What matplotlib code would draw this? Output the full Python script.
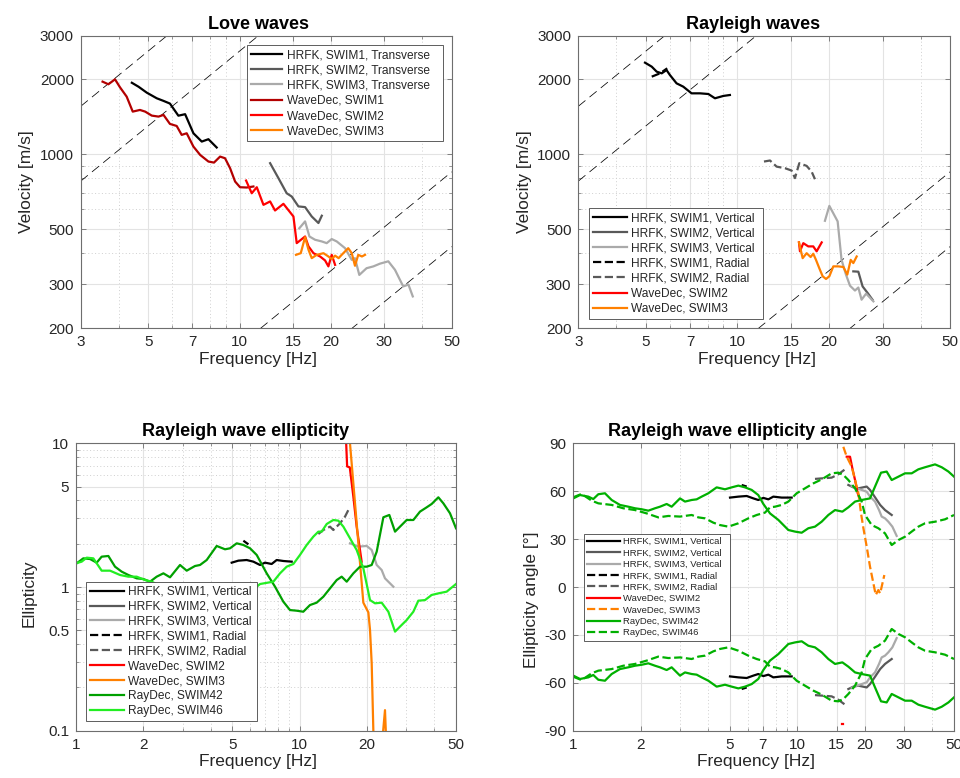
"""Dispersion curves (Love / Rayleigh) and Rayleigh ellipticity from HRFK, WaveDec and RayDec."""
import matplotlib

matplotlib.use("Agg")
import matplotlib.pyplot as plt  # noqa: E402
import numpy as np  # noqa: E402

plt.rcParams["font.family"] = ["Liberation Sans", "DejaVu Sans"]

# colours (MATLAB-ish)
BLACK = "#000000"
DGRAY = "#595959"
LGRAY = "#aaaaaa"
DRED = "#b30000"
RED = "#ff0000"
ORANGE = "#ff8000"
DGREEN = "#00a000"
LGREEN = "#22ee22"
GREEN = "#00b000"

# ---------------- Love waves: frequency [Hz], phase velocity [m/s]
LOVE_HRFK1_F = [4.42, 4.65, 4.95, 5.34, 5.62, 5.90, 6.29, 6.62, 7.05, 7.51, 7.90, 8.41]
LOVE_HRFK1_V = [1940, 1870, 1770, 1680, 1640, 1600, 1430, 1450, 1215, 1125, 1150, 1065]
LOVE_HRFK2_F = [12.61, 13.43, 14.30, 14.86, 15.63, 16.44, 17.29, 18.19, 18.66]
LOVE_HRFK2_V = [921, 802, 697, 676, 617, 613, 562, 529, 566]
LOVE_HRFK3_F = [15.74, 16.44, 16.99, 17.73, 18.66, 19.37, 20.12, 20.9, 22.26, 23.42,
                24.0, 24.8, 26.2, 27.6, 29.0, 30.9, 32.5, 34.6, 36.0, 37.2]
LOVE_HRFK3_V = [504, 537, 467, 453, 446, 439, 456, 446, 419, 376,
                382, 327, 348, 354, 363, 371, 343, 294, 299, 268]
LOVE_WD1_F = [3.54, 3.70, 3.89, 4.04, 4.25, 4.45, 4.70, 4.89, 5.14, 5.41, 5.62, 5.90, 6.21,
              6.45, 6.70, 7.05, 7.42, 7.90, 8.24, 8.63, 8.96, 9.31, 9.67, 10.04, 10.56, 11.11]
LOVE_WD1_V = [1960, 1913, 2003, 1860, 1706, 1485, 1508, 1485, 1431, 1418, 1440, 1325, 1300,
              1197, 1215, 1074, 994, 935, 926, 979, 964, 879, 777, 737, 735, 742]
LOVE_WD2_F = [10.51, 10.97, 11.40, 11.99, 12.61, 13.09, 13.95, 15.05, 15.43, 16.44, 16.87,
              17.52, 18.42, 19.13, 19.62, 20.12, 20.64]
LOVE_WD2_V = [784, 697, 737, 626, 646, 594, 632, 562, 439, 467, 426, 400, 388, 374, 354, 394, 359]
LOVE_WD3_F = [15.35, 15.91, 16.44, 16.87, 17.29, 17.96, 18.9, 19.62, 20.12, 20.64, 21.2,
              21.7, 22.8, 23.42, 24.0, 24.6, 25.3, 25.9]
LOVE_WD3_V = [394, 400, 464, 413, 382, 394, 400, 388, 379, 391, 382, 394, 419, 400, 356, 394, 388, 394]

# ---------------- Rayleigh waves
RAY_HRFK1V_F = [4.97, 5.23, 5.43, 5.64, 5.85, 6.00, 6.31, 6.64, 7.07, 7.54, 8.03, 8.44, 8.99, 9.45]
RAY_HRFK1V_V = [2337, 2252, 2150, 2117, 2183, 2085, 1930, 1871, 1759, 1759, 1748, 1680, 1717, 1732]
RAY_HRFK1R_F = [5.23, 5.57, 5.88]
RAY_HRFK1R_V = [2053, 2117, 2218]
RAY_HRFK2V_F = [24.05, 24.98, 25.8, 26.9, 27.8]
RAY_HRFK2V_V = [338, 337, 294, 275, 260]
RAY_HRFK3V_F = [19.4, 20.06, 21.36, 22.0, 22.75, 23.45, 24.35, 24.98, 25.6, 26.5, 28.0]
RAY_HRFK3V_V = [540, 620, 537, 376, 328, 296, 283, 291, 260, 275, 256]
RAY_HRFK2R_F = [12.23, 12.8, 13.46, 14.34, 15.08, 15.46, 15.98, 16.89, 17.54, 17.99]
RAY_HRFK2R_V = [935, 944, 892, 879, 860, 802, 921, 898, 852, 794]
RAY_WD2_F = [15.94, 16.06, 16.47, 17.1, 17.76, 18.22, 18.93]
RAY_WD2_V = [442, 407, 439, 426, 426, 407, 442]
RAY_WD3_F = [15.94, 16.39, 16.89, 17.41, 17.76, 18.13, 18.59, 19.07, 19.56, 20.06, 20.67,
             21.46, 22.3, 22.98, 23.58, 24.05, 24.67]
RAY_WD3_V = [442, 382, 400, 386, 398, 376, 348, 323, 315, 323, 354, 354, 352, 328, 376, 365, 388]

# constant-wavelength guide lines [m]
GUIDE_WAVELENGTHS = [520, 260, 17, 8.5]

# ---------------- Rayleigh ellipticity (H/V)
ELL_HRFK1V_F = [4.966, 5.318, 5.795, 6.207, 6.647, 6.998, 7.495, 7.891, 8.453, 9.211]
ELL_HRFK1V_E = [1.477, 1.525, 1.541, 1.501, 1.423, 1.477, 1.446, 1.541, 1.517, 1.501]
ELL_HRFK3V_F = [16.79, 18.3, 19.94, 20.99, 22.10, 23.26, 24.07, 26.23]
ELL_HRFK3V_E = [2.014, 1.91, 1.93, 1.810, 1.423, 1.313, 1.149, 1.005]
ELL_HRFK1R_F = [5.6, 5.9]
ELL_HRFK1R_E = [2.10, 1.98]
ELL_HRFK2R_F = [12.12, 12.76, 13.67, 14.14, 15.15, 15.95, 16.51]
ELL_HRFK2R_E = [2.338, 2.493, 2.630, 2.493, 2.774, 3.089, 3.436]
ELL_WD2_F = [16.1, 16.3, 16.75, 17.38, 17.98, 18.93]
ELL_WD2_E = [11.0, 6.9, 6.8, 4.25, 2.63, 1.50]
ELL_WD3_F = [16.70, 19.26, 20.28, 20.63, 20.99, 21.35, 21.6, 23.3, 23.55, 24.07, 24.3, 24.6]
ELL_WD3_E = [11.0, 0.778, 0.666, 0.502, 0.294, 0.100, 0.07, 0.05, 0.095, 0.139, 0.095, 0.05]
ELL_42_F = [1.007, 1.078, 1.155, 1.237, 1.302, 1.395, 1.494, 1.600, 1.714, 1.867, 2.0, 2.142,
            2.294, 2.458, 2.632, 2.917, 3.125, 3.404, 3.584, 3.839, 4.255, 4.637, 4.882, 5.229,
            5.601, 5.998, 6.425, 7.119, 7.758, 8.453, 9.054, 9.697, 10.38, 11.12, 11.91, 12.76,
            13.67, 14.64, 15.41, 16.23, 17.38, 18.61, 19.94, 20.99, 22.10, 23.67, 25.17, 26.69,
            28.09, 30.09, 32.23, 34.51, 36.97, 38.92, 41.69, 43.89, 47.0, 50.0]
ELL_42_E = [1.462, 1.583, 1.566, 1.477, 1.626, 1.644, 1.385, 1.279, 1.212, 1.149, 1.137, 1.089,
            1.180, 1.245, 1.168, 1.423, 1.299, 1.400, 1.423, 1.541, 1.930, 1.830, 1.859, 2.014,
            1.961, 1.859, 1.671, 1.245, 1.005, 0.790, 0.691, 0.684, 0.673, 0.749, 0.778, 0.856,
            0.979, 1.118, 1.180, 1.089, 1.245, 1.385, 1.385, 1.423, 1.762, 3.056, 3.172, 2.428,
            2.630, 2.926, 2.926, 3.346, 3.585, 3.783, 4.208, 3.823, 3.259, 2.561]
ELL_46_F = [1.0, 1.06, 1.116, 1.195, 1.302, 1.419, 1.573, 1.714, 1.867, 2.035, 2.179, 2.6,
            3.4, 4.9, 6.0, 6.647, 7.625, 8.168, 8.748, 9.369, 10.03, 10.75, 11.51, 12.12, 12.54,
            13.21, 14.14, 14.89, 15.68, 16.79, 17.98, 19.26, 20.63, 21.72, 23.26, 24.92, 26.69,
            28.09, 30.09, 32.23, 33.93, 36.35, 38.92, 41.69, 45.42, 50.0]
ELL_46_E = [1.462, 1.501, 1.6, 1.583, 1.299, 1.299, 1.212, 1.180, 1.180, 1.118, 1.089, 0.95,
            0.98, 0.78, 0.92, 1.049, 1.089, 1.245, 1.385, 1.446, 1.671, 1.961, 2.241, 2.428, 2.428,
            2.745, 2.926, 2.895, 2.630, 2.182, 1.810, 1.349, 0.811, 0.770, 0.778, 0.673, 0.489,
            0.530, 0.589, 0.673, 0.803, 0.811, 0.880, 0.903, 0.928, 1.049]

# ---------------- Rayleigh ellipticity angle [deg] (upper branch; HRFK/RayDec mirrored below)
ANG_HRFK1V_F = [5.003, 5.451, 5.937, 6.359, 6.69, 7.047, 7.419, 7.809, 8.506, 9.427]
ANG_HRFK1V_A = [56.0, 56.6, 57.0, 55.5, 54.5, 55.8, 54.9, 56.6, 56.0, 56.0]
ANG_HRFK2V_F = [16.88, 17.77, 18.71, 20.38, 21.09, 22.2, 23.4, 24.6, 26.35]
ANG_HRFK2V_A = [63.9, 62.4, 61.8, 62.9, 60.8, 56.2, 51.4, 48.2, 45.1]
ANG_HRFK3V_F = [17.47, 18.39, 19.36, 20.38, 21.09, 22.2, 23.13, 23.77, 24.6, 25.46, 26.53, 27.73]
ANG_HRFK3V_A = [63.3, 61.8, 60.8, 59.7, 56.6, 53.5, 48.2, 44.1, 43.0, 40.9, 37.8, 32.0]
ANG_HRFK1R_F = [5.64, 5.94]
ANG_HRFK1R_A = [63.9, 62.9]
ANG_HRFK2R_F = [11.98, 13.05, 14.22, 15.23, 16.31]
ANG_HRFK2R_A = [67.7, 68.1, 68.5, 70.6, 73.7]
ANG_WD2_F = [16.6, 17.17, 17.59, 18.08, 18.58, 18.83]
ANG_WD2_A = [81.6, 81.6, 74.3, 67.0, 58.7, 56.6]
ANG_WD2_DOT_F = [15.85, 15.95]
ANG_WD2_DOT_A = [-85.8, -85.8]
ANG_WD3_F = [15.6, 15.87, 16.6, 17.47, 18.08, 18.71, 19.23, 19.7, 20.38, 21.09, 21.83, 22.36,
             22.97, 23.4, 23.77, 24.43]
ANG_WD3_A = [95.0, 89.6, 81.6, 75.4, 67.0, 58.7, 46.1, 36.8, 25.3, 12.7, 2.3, -5.0,
             -1.9, -4.0, 0.2, 7.5]
ANG_42_F = [1.0, 1.071, 1.167, 1.228, 1.293, 1.384, 1.483, 1.615, 1.760, 1.885, 2.018, 2.161,
            2.314, 2.437, 2.609, 2.747, 2.993, 3.150, 3.374, 3.551, 3.739, 4.004, 4.362, 4.752,
            5.089, 5.451, 5.837, 6.251, 6.69, 7.047, 7.546, 8.223, 9.111, 9.757, 10.45, 11.19,
            11.98, 12.83, 13.74, 14.72, 15.87, 16.88, 18.08, 19.36, 21.09, 22.2, 23.61, 25.02,
            26.35, 28.22, 30.22, 32.36, 34.65, 37.11, 41.13, 44.05, 47.19, 50.0]
ANG_42_A = [55.5, 57.6, 56.6, 55.1, 58.1, 58.7, 54.5, 51.4, 50.3, 49.3, 48.7, 47.8,
            49.3, 50.3, 52.0, 50.3, 55.5, 53.5, 54.5, 54.9, 56.6, 58.7, 62.4, 61.2,
            62.4, 63.5, 62.4, 60.8, 57.6, 52.0, 46.1, 42.0, 35.7, 34.7, 34.0, 36.8,
            37.8, 40.9, 45.1, 48.2, 47.2, 49.9, 53.5, 54.5, 55.5, 62.9, 71.6, 72.3,
            67.0, 69.1, 71.2, 71.2, 73.7, 75.0, 76.8, 75.0, 72.3, 69.1]
ANG_46_F = [1.0, 1.089, 1.207, 1.293, 1.483, 1.672, 1.885, 2.125, 2.395, 2.655, 2.993, 3.374,
            3.614, 3.870, 4.215, 4.514, 4.918, 5.451, 6.039, 6.579, 7.168, 7.546, 7.943, 8.506,
            9.111, 9.925, 10.81, 11.78, 12.83, 14.22, 15.23, 16.03, 16.88, 18.08, 19.36, 20.03,
            21.46, 22.97, 24.6, 26.35, 28.22, 30.22, 32.36, 34.65, 37.11, 41.13, 45.58, 50.0]
ANG_46_A = [56.2, 58.3, 54.1, 52.4, 51.4, 49.3, 48.2, 46.1, 43.6, 44.5, 44.1, 45.1,
            43.6, 43.0, 40.3, 38.8, 37.8, 39.9, 43.0, 45.1, 46.6, 49.9, 50.3, 51.4,
            53.5, 58.7, 61.8, 64.9, 67.4, 71.2, 71.6, 70.2, 67.0, 61.8, 53.5, 45.1,
            38.8, 36.8, 33.6, 26.3, 29.4, 31.5, 34.7, 37.8, 39.9, 40.9, 42.4, 45.1]

LW = 1.6
TICK_COLOR = "#262626"
FRAME_COLOR = "#6e6e6e"


def style_axes(ax, xlim, xmajor, xminor, ylim, ymajor, yminor, ylog=True, xlabel_x=0.48):
    ax.set_xscale("log")
    if ylog:
        ax.set_yscale("log")
    ax.set_xlim(*xlim)
    ax.set_ylim(*ylim)
    ax.set_xticks(xmajor)
    ax.set_xticklabels([f"{t:g}" for t in xmajor])
    ax.set_xticks(xminor, minor=True)
    ax.set_xticklabels([], minor=True)
    ax.set_yticks(ymajor)
    ax.set_yticklabels([f"{t:g}" for t in ymajor])
    ax.set_yticks(yminor, minor=True)
    ax.set_yticklabels([], minor=True)
    ax.tick_params(which="major", direction="in", length=3.5, width=0.6, colors=FRAME_COLOR,
                   labelcolor=TICK_COLOR, labelsize=11, top=True, right=True, pad=5)
    ax.tick_params(which="minor", direction="in", length=2, width=0.5, colors=FRAME_COLOR,
                   top=True, right=True)
    ax.grid(which="major", color="#e3e3e3", linewidth=0.8, linestyle="-")
    ax.grid(which="minor", color="#cfcfcf", linewidth=0.7, linestyle=(0, (1, 2.5)))
    ax.set_axisbelow(True)
    for sp in ax.spines.values():
        sp.set_color(FRAME_COLOR)
        sp.set_linewidth(0.8)
    ax.set_xlabel("Frequency [Hz]", fontsize=12.5, color=TICK_COLOR, labelpad=2)
    ax.xaxis.label.set_x(xlabel_x)


def guide_lines(ax):
    f = np.array([3.0, 50.0])
    for lam in GUIDE_WAVELENGTHS:
        ax.plot(f, lam * f, color="black", linewidth=0.55, linestyle=(0, (12, 7)), zorder=1.5)


def legend(ax, loc, box, size, hlen, spacing, textpad=0.4):
    leg = ax.legend(loc=loc, bbox_to_anchor=box, mode="expand", borderaxespad=0, fontsize=size,
                    handlelength=hlen, handletextpad=textpad, labelspacing=spacing, borderpad=0.35,
                    fancybox=False, framealpha=1, edgecolor="#444444")
    leg.get_frame().set_linewidth(0.6)
    for t in leg.get_texts():
        t.set_color(TICK_COLOR)


def main():
    fig = plt.figure(figsize=(9.6, 7.78), dpi=100)
    top_ticks_x = [3, 5, 7, 10, 15, 20, 30, 50]
    top_minor_x = [4, 6, 8, 9, 40]
    top_ticks_y = [200, 300, 500, 1000, 2000, 3000]
    top_minor_y = [400, 600, 700, 800, 900]

    # ---- Love waves
    ax = fig.add_axes([0.0841, 0.5784, 0.3865, 0.3757])
    style_axes(ax, (3, 50), top_ticks_x, top_minor_x, (200, 3000), top_ticks_y, top_minor_y,
               xlabel_x=0.478)
    ax.plot(LOVE_HRFK1_F, LOVE_HRFK1_V, color=BLACK, lw=LW, label="HRFK, SWIM1, Transverse")
    ax.plot(LOVE_HRFK2_F, LOVE_HRFK2_V, color=DGRAY, lw=LW, label="HRFK, SWIM2, Transverse")
    ax.plot(LOVE_HRFK3_F, LOVE_HRFK3_V, color=LGRAY, lw=LW, label="HRFK, SWIM3, Transverse")
    ax.plot(LOVE_WD1_F, LOVE_WD1_V, color=DRED, lw=LW, label="WaveDec, SWIM1")
    ax.plot(LOVE_WD2_F, LOVE_WD2_V, color=RED, lw=LW, label="WaveDec, SWIM2")
    ax.plot(LOVE_WD3_F, LOVE_WD3_V, color=ORANGE, lw=LW, label="WaveDec, SWIM3")
    guide_lines(ax)
    ax.set_ylabel("Velocity [m/s]", fontsize=12.5, color=TICK_COLOR)
    ax.set_title("Love waves", fontsize=13, fontweight="bold", pad=5, x=0.478)
    legend(ax, "upper left", (0.4482, 0.0, 0.5284, 0.9682), 8.6, 2.6, 0.27)

    # ---- Rayleigh waves
    ax = fig.add_axes([0.6024, 0.5784, 0.3872, 0.3757])
    style_axes(ax, (3, 50), top_ticks_x, top_minor_x, (200, 3000), top_ticks_y, top_minor_y)
    ax.plot(RAY_HRFK1V_F, RAY_HRFK1V_V, color=BLACK, lw=LW, label="HRFK, SWIM1, Vertical")
    ax.plot(RAY_HRFK2V_F, RAY_HRFK2V_V, color=DGRAY, lw=LW, label="HRFK, SWIM2, Vertical")
    ax.plot(RAY_HRFK3V_F, RAY_HRFK3V_V, color=LGRAY, lw=LW, label="HRFK, SWIM3, Vertical")
    ax.plot(RAY_HRFK1R_F, RAY_HRFK1R_V, color=BLACK, lw=LW, ls="--", label="HRFK, SWIM1, Radial")
    ax.plot(RAY_HRFK2R_F, RAY_HRFK2R_V, color=DGRAY, lw=LW, ls="--", label="HRFK, SWIM2, Radial")
    ax.plot(RAY_WD2_F, RAY_WD2_V, color=RED, lw=LW, label="WaveDec, SWIM2")
    ax.plot(RAY_WD3_F, RAY_WD3_V, color=ORANGE, lw=LW, label="WaveDec, SWIM3")
    guide_lines(ax)
    ax.set_ylabel("Velocity [m/s]", fontsize=12.5, color=TICK_COLOR)
    ax.set_title("Rayleigh waves", fontsize=13, fontweight="bold", pad=5, x=0.47)
    legend(ax, "lower left", (0.0288, 0.0308, 0.468, 1.0), 8.6, 2.8, 0.26)

    # ---- Rayleigh wave ellipticity
    ax = fig.add_axes([0.0792, 0.0608, 0.3958, 0.3694])
    style_axes(ax, (1, 50), [1, 2, 5, 10, 20, 50], [3, 4, 6, 7, 8, 9, 30, 40],
               (0.1, 10), [0.1, 0.5, 1, 5, 10],
               [0.2, 0.3, 0.4, 0.6, 0.7, 0.8, 0.9, 2, 3, 4, 6, 7, 8, 9])
    ax.plot(ELL_HRFK1V_F, ELL_HRFK1V_E, color=BLACK, lw=LW, label="HRFK, SWIM1, Vertical")
    ax.plot([], [], color=DGRAY, lw=LW, label="HRFK, SWIM2, Vertical")
    ax.plot(ELL_HRFK3V_F, ELL_HRFK3V_E, color=LGRAY, lw=LW, label="HRFK, SWIM3, Vertical")
    ax.plot(ELL_HRFK1R_F, ELL_HRFK1R_E, color=BLACK, lw=LW, ls="--", label="HRFK, SWIM1, Radial")
    ax.plot(ELL_HRFK2R_F, ELL_HRFK2R_E, color=DGRAY, lw=LW, ls="--", label="HRFK, SWIM2, Radial")
    ax.plot(ELL_WD2_F, ELL_WD2_E, color=RED, lw=LW, label="WaveDec, SWIM2")
    ax.plot(ELL_WD3_F, ELL_WD3_E, color=ORANGE, lw=LW, label="WaveDec, SWIM3")
    ax.plot(ELL_42_F, ELL_42_E, color=DGREEN, lw=LW, label="RayDec, SWIM42")
    ax.plot(ELL_46_F, ELL_46_E, color=LGREEN, lw=LW, label="RayDec, SWIM46")
    ax.set_ylabel("Ellipticity", fontsize=12.5, color=TICK_COLOR, labelpad=8)
    ax.yaxis.label.set_y(0.477)
    ax.set_title("Rayleigh wave ellipticity", fontsize=13, fontweight="bold", pad=5, x=0.4455)
    legend(ax, "lower left", (0.0263, 0.0338, 0.45, 1.0), 8.6, 2.8, 0.24)

    # ---- Rayleigh wave ellipticity angle
    ax = fig.add_axes([0.5972, 0.0608, 0.3966, 0.3694])
    ticks = list(range(-90, 91, 30))
    style_axes(ax, (1, 50), [1, 2, 5, 7, 10, 15, 20, 30, 50], [3, 4, 6, 8, 9, 40],
               (-90, 90), ticks, [], ylog=False, xlabel_x=0.479)
    mirrored = [
        (ANG_HRFK1V_F, ANG_HRFK1V_A, BLACK, "-", "HRFK, SWIM1, Vertical"),
        (ANG_HRFK2V_F, ANG_HRFK2V_A, DGRAY, "-", "HRFK, SWIM2, Vertical"),
        (ANG_HRFK3V_F, ANG_HRFK3V_A, LGRAY, "-", "HRFK, SWIM3, Vertical"),
        (ANG_HRFK1R_F, ANG_HRFK1R_A, BLACK, "--", "HRFK, SWIM1, Radial"),
        (ANG_HRFK2R_F, ANG_HRFK2R_A, DGRAY, "--", "HRFK, SWIM2, Radial"),
    ]
    for f, a, c, ls, lab in mirrored:
        ax.plot(f, a, color=c, lw=LW, ls=ls, label=lab)
        ax.plot(f, -np.asarray(a), color=c, lw=LW, ls=ls)
    ax.plot(ANG_WD2_F, ANG_WD2_A, color=RED, lw=LW, label="WaveDec, SWIM2")
    ax.plot(ANG_WD2_DOT_F, ANG_WD2_DOT_A, color=RED, lw=LW)
    ax.plot(ANG_WD3_F, ANG_WD3_A, color=ORANGE, lw=LW, ls="--", label="WaveDec, SWIM3")
    for f, a, ls, lab in [(ANG_42_F, ANG_42_A, "-", "RayDec, SWIM42"),
                          (ANG_46_F, ANG_46_A, "--", "RayDec, SWIM46")]:
        ax.plot(f, a, color=GREEN, lw=LW, ls=ls, label=lab)
        ax.plot(f, -np.asarray(a), color=GREEN, lw=LW, ls=ls)
    ax.set_ylabel("Ellipticity angle [°]", fontsize=12.5, color=TICK_COLOR)
    ax.yaxis.label.set_y(0.455)
    ax.set_title("Rayleigh wave ellipticity angle", fontsize=13, fontweight="bold", pad=5, x=0.4326)
    legend(ax, "upper left", (0.0281, 0.0, 0.3835, 0.6844), 6.8, 3.5, 0.25, textpad=0.25)

    fig.savefig("out.png", dpi=100)
    plt.close(fig)


if __name__ == "__main__":
    main()
